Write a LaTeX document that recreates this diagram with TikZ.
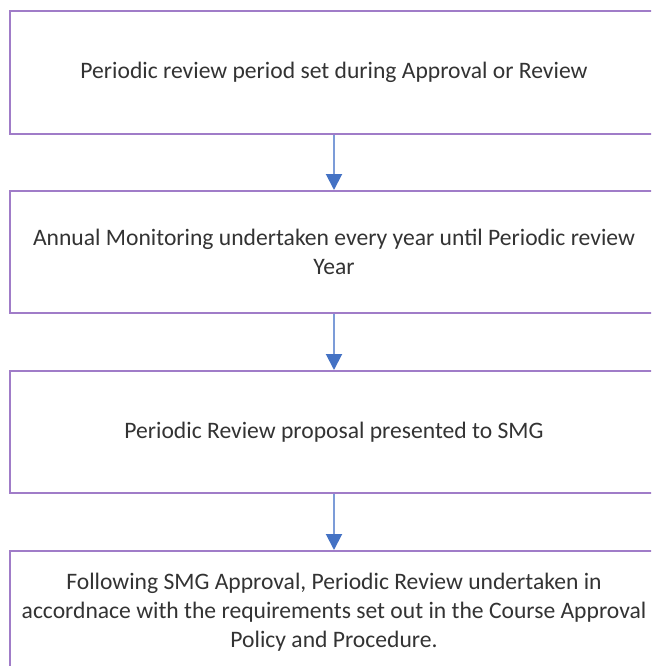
\documentclass[tikz,border=0pt]{standalone}
\usepackage{fontspec}
\setmainfont{Carlito}
\usetikzlibrary{arrows.meta}
\definecolor{boxline}{HTML}{A07CC8}
\definecolor{arrline}{HTML}{7C9CD8}
\definecolor{arrhead}{HTML}{4472C4}
\definecolor{txt}{HTML}{333333}
\tikzset{
  stepbox/.style={draw=boxline, line width=2pt, fill=white, minimum width=648pt, minimum height=122pt,
    align=center, font=\fontsize{23.6}{29}\selectfont, text=txt, inner sep=0pt},
  flow/.style={draw=arrline, line width=2pt, -{Triangle[length=16pt,width=16pt,fill=arrhead,color=arrhead]}}
}
\begin{document}
\begin{tikzpicture}[x=1pt,y=-1pt]
\useasboundingbox (0,0) rectangle (651,666);
\begin{scope}
\clip (0,0) rectangle (651,666);
\node[stepbox] (b1) at (334,72.5) {Periodic review period set during Approval or Review};
\node[stepbox] (b2) at (334,252) {Annual Monitoring undertaken every year until Periodic review\\Year};
\node[stepbox] (b3) at (334,432) {Periodic Review proposal presented to SMG};
\node[stepbox] (b4) at (334,612) {Following SMG Approval, Periodic Review undertaken in\\accordnace with the requirements set out in the Course Approval\\Policy and Procedure.};
\draw[flow] (b1.south) -- (b2.north);
\draw[flow] (b2.south) -- (b3.north);
\draw[flow] (b3.south) -- (b4.north);
\end{scope}
\end{tikzpicture}
\end{document}
